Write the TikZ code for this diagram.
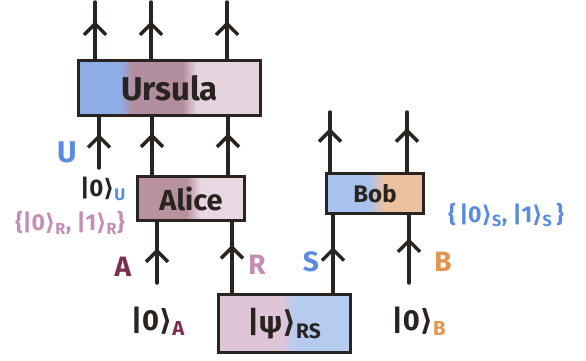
\documentclass[tikz,border=0pt]{standalone}
\usepackage{fontspec}
\setmainfont{Fira Sans}
\newfontfamily\dvfont{DejaVu Sans}
\usetikzlibrary{arrows.meta,decorations.markings,calc}
\definecolor{ink}{HTML}{29241F}
\definecolor{blueL}{HTML}{5A8BE0}
\definecolor{pinkL}{HTML}{C48DB6}
\definecolor{maroonA}{HTML}{7B2F50}
\definecolor{orangeB}{HTML}{E3954E}
\definecolor{ublue}{HTML}{8EADE6}
\definecolor{umaroon}{HTML}{B38E9E}
\definecolor{upink}{HTML}{E6D4E1}
\definecolor{amaroon}{HTML}{B8929F}
\definecolor{apink}{HTML}{E9D7E4}
\definecolor{bblue}{HTML}{A9C3EE}
\definecolor{borange}{HTML}{ECC1A0}
\definecolor{ppink}{HTML}{DFC5D8}
\definecolor{pblue}{HTML}{B5CCF0}
\newcommand\rk{{\dvfont\bfseries ⟩}}
\newcommand\sbs[2]{\textsubscript{\color{#1}#2}}
\newcommand\fs[1]{\fontsize{#1}{#1}\selectfont\bfseries}
\newcommand\bandfill[3]{%
  \fill[#2] ([xshift=#3]path picture bounding box.north west) rectangle (path picture bounding box.south east);
  \shade[left color=#1,right color=#2] ([xshift={#3-7pt}]path picture bounding box.north west) rectangle ([xshift={#3+7pt}]path picture bounding box.south west);}
\newcommand\basefill[1]{\fill[#1] (path picture bounding box.north west) rectangle (path picture bounding box.south east);}
\tikzset{
  wire/.style={draw=ink, line width=3.5pt, line cap=round},
  arr/.style={postaction={decorate}, decoration={markings, mark=at position #1 with {\arrow[ink, line cap=round, line join=round]{Straight Barb[length=11pt,width=22pt]}}}},
  box/.style={draw=ink, line width=3.5pt, inner sep=0pt, text=ink},
  lab/.style={inner sep=0pt, text=ink},
}
\begin{document}
\begin{tikzpicture}[x=1pt,y=-1pt]
\useasboundingbox (0,0) rectangle (586,360);
% boxes
\node[box, minimum width=182pt, minimum height=55pt, font=\fs{33},
  path picture={\basefill{ublue}\bandfill{ublue}{umaroon}{48pt}\bandfill{umaroon}{upink}{111pt}}]
  (ursula) at (169.5,88) {Ursula};
\node[box, minimum width=107pt, minimum height=44pt, font=\fs{29},
  path picture={\basefill{amaroon}\bandfill{amaroon}{apink}{56pt}}]
  (alice) at (191,198.5) {Alice};
\node[box, minimum width=97pt, minimum height=40pt, font=\fs{24},
  path picture={\basefill{bblue}\bandfill{bblue}{borange}{50pt}}]
  (bob) at (375,193.5) {Bob};
\node[box, minimum width=132pt, minimum height=58pt, font=\fs{30},
  path picture={\basefill{ppink}\bandfill{ppink}{pblue}{70pt}}]
  (psi) at (284.5,323.5) {|ψ\rk\sbs{ink}{RS}};
% coordinates
\coordinate (t1) at (95,2);
\coordinate (t2) at (151,2);
\coordinate (t3) at (227,2);
\coordinate (u0) at (99,168);
\coordinate (xa1) at (152,0);
\coordinate (xa2) at (228,0);
\coordinate (a0) at (157,283);
\coordinate (xr) at (232,0);
\coordinate (xs) at (333,0);
\coordinate (b0) at (409,283);
\coordinate (o1) at (330,112);
\coordinate (o2) at (407,112);
% wires
\draw[wire, arr=0.66] (ursula.north -| t1) -- (t1);
\draw[wire, arr=0.66] (ursula.north -| t2) -- (t2);
\draw[wire, arr=0.66] (ursula.north -| t3) -- (t3);
\draw[wire, arr=0.67] (u0) -- (ursula.south -| u0);
\draw[wire, arr=0.72] (alice.north -| xa1) -- (ursula.south -| xa1);
\draw[wire, arr=0.72] (alice.north -| xa2) -- (ursula.south -| xa2);
\draw[wire, arr=0.57] (a0) -- (alice.south -| a0);
\draw[wire, arr=0.68] (psi.north -| xr) -- (alice.south -| xr);
\draw[wire, arr=0.59] (psi.north -| xs) -- (bob.south -| xs);
\draw[wire, arr=0.66] (b0) -- (bob.south -| b0);
\draw[wire, arr=0.73] (bob.north -| o1) -- (o1);
\draw[wire, arr=0.73] (bob.north -| o2) -- (o2);
% labels
\node[lab, text=blueL, font=\fs{30}] (lU) at (67,152) {U};
\node[lab, font=\fs{24}] (k0u) at (103,189) {|0\rk\sbs{blueL}{U}};
\node[lab, text=pinkL, font=\fs{23}] (basR) at (70,223) {\{|0\rk\sbs{pinkL}{R}, |1\rk\sbs{pinkL}{R}\}};
\node[lab, text=maroonA, font=\fs{28}] (lA) at (123,267) {A};
\node[lab, text=pinkL, font=\fs{28}] (lR) at (257,265) {R};
\node[lab, text=blueL, font=\fs{28}] (lS) at (311,262) {S};
\node[lab, text=orangeB, font=\fs{28}] (lB) at (443,262) {B};
\node[lab, font=\fs{29}] (k0A) at (158,321) {|0\rk\sbs{maroonA}{A}};
\node[lab, font=\fs{29}] (k0B) at (419,321) {|0\rk\sbs{orangeB}{B}};
\node[lab, text=blueL, font=\fs{23}] (basS) at (506,215) {\{\,|0\rk\sbs{blueL}{S}, |1\rk\sbs{blueL}{S}\,\}};
\end{tikzpicture}
\end{document}
